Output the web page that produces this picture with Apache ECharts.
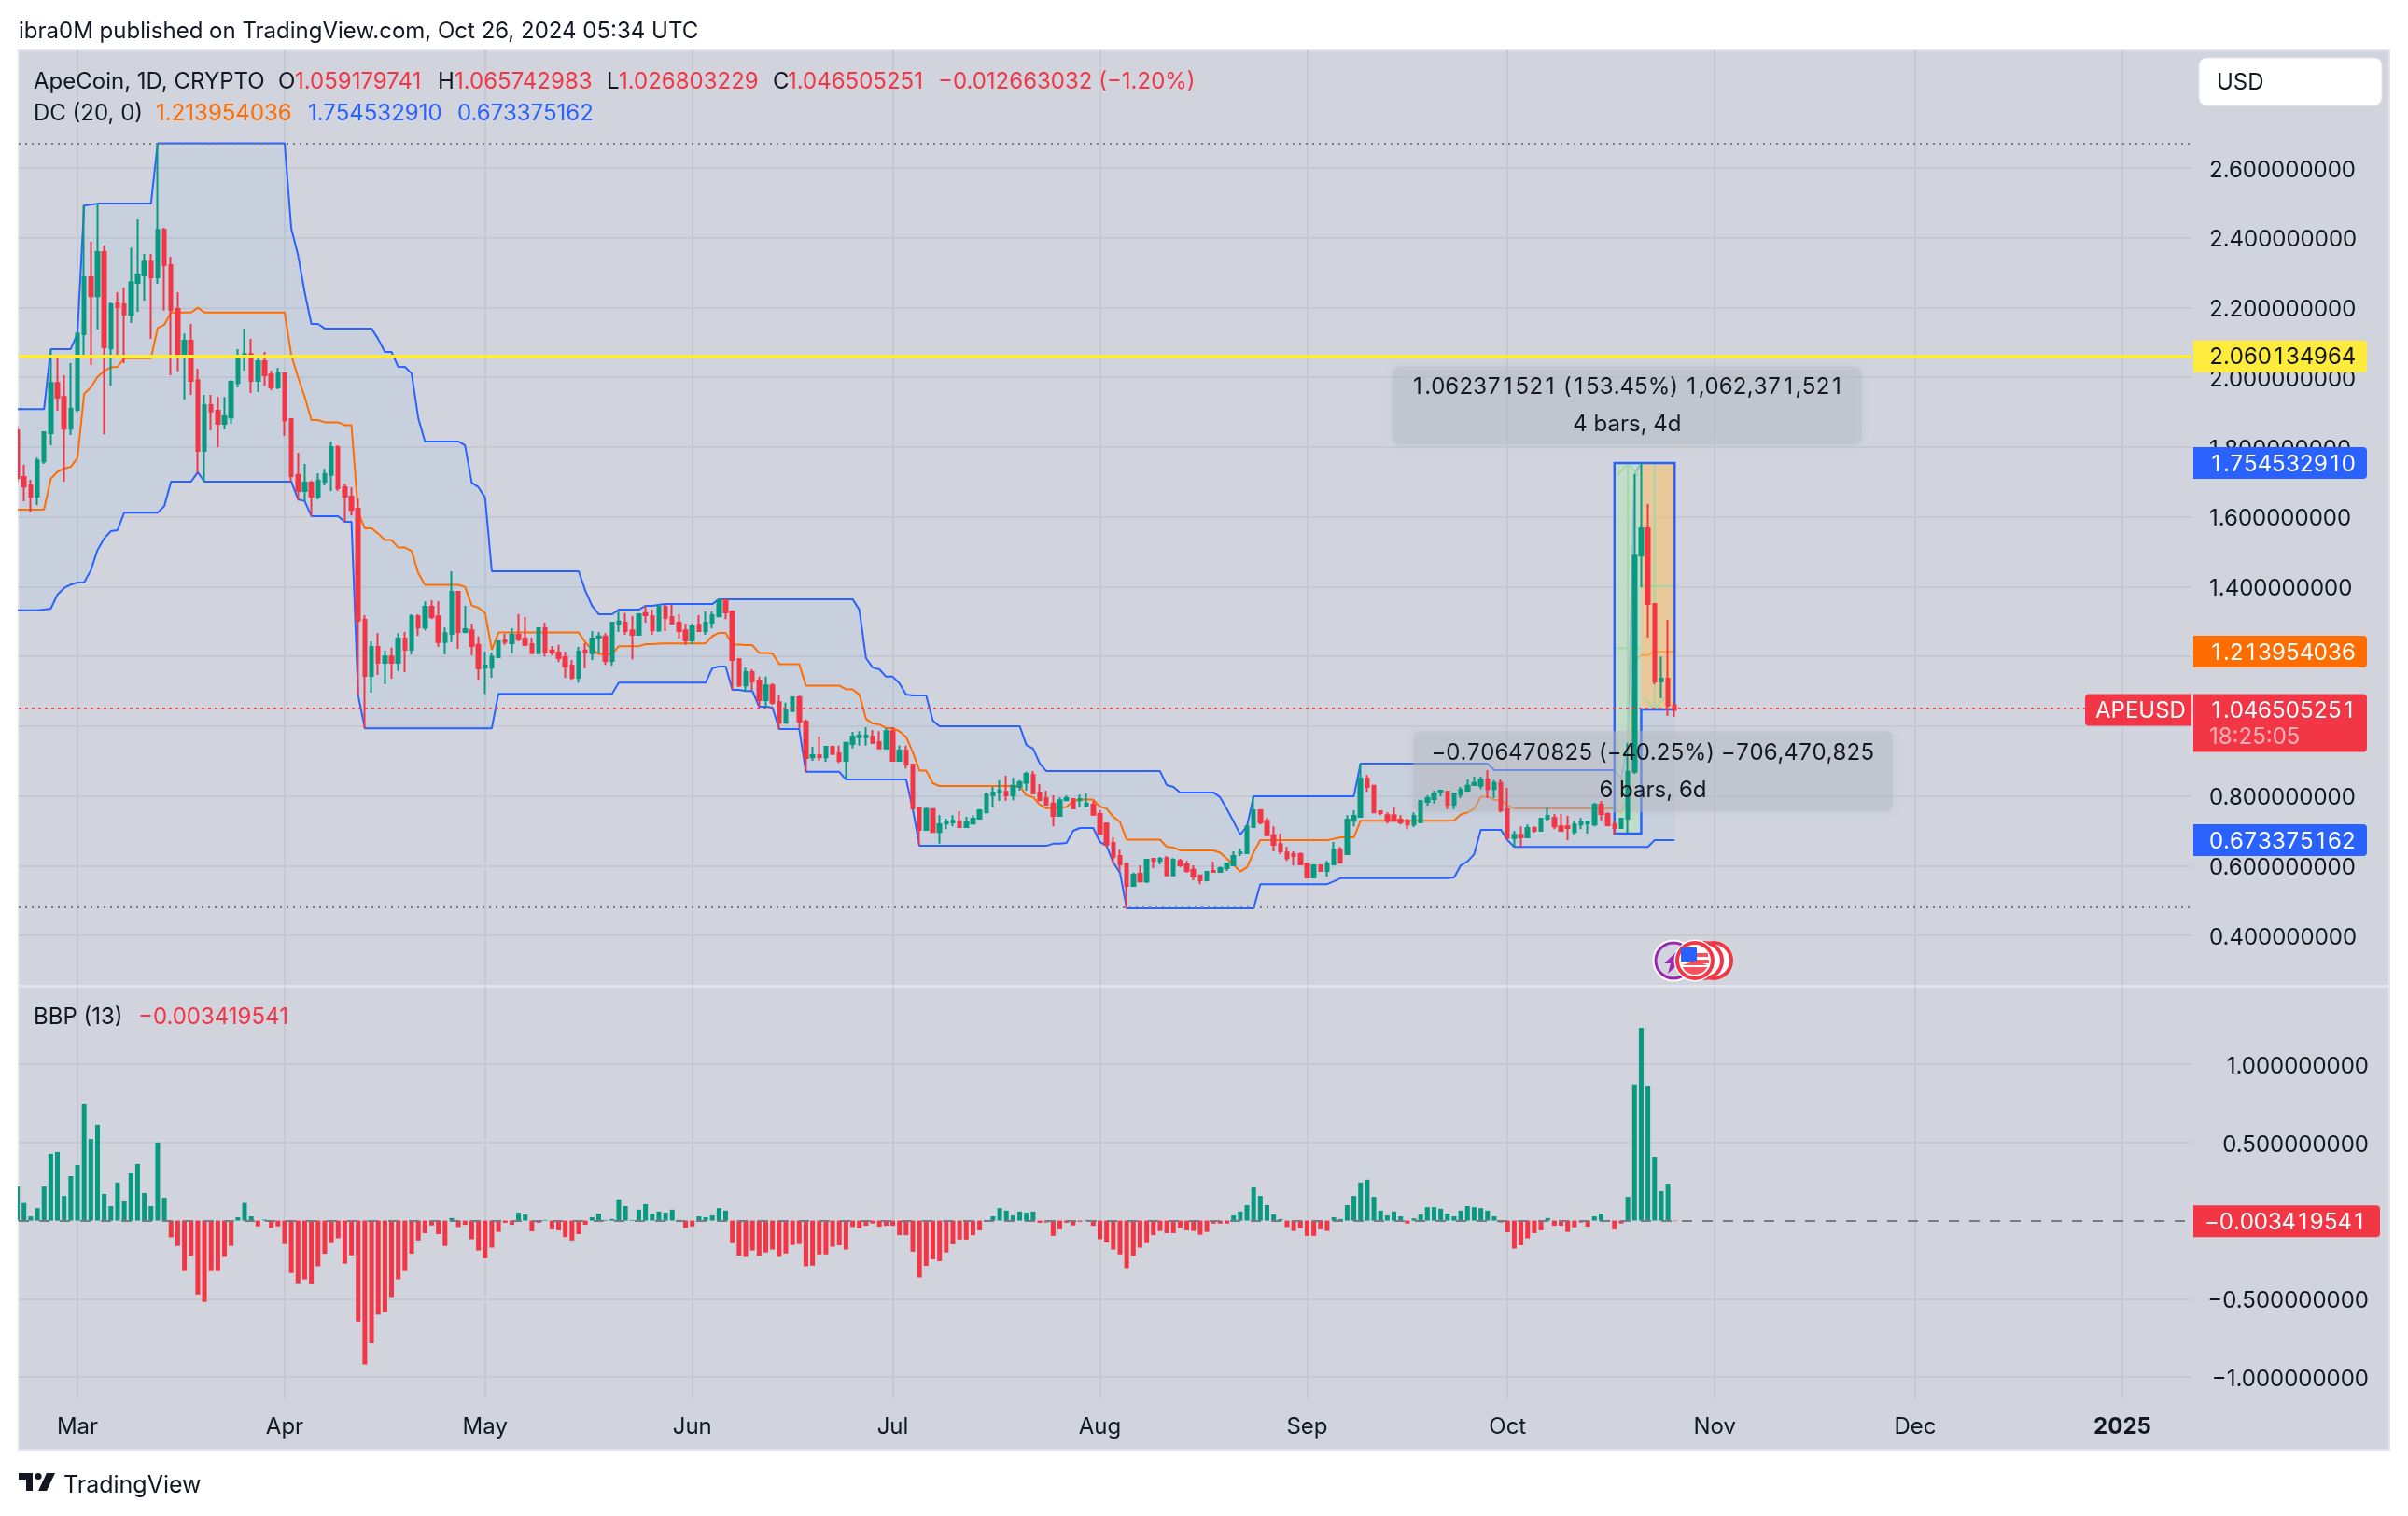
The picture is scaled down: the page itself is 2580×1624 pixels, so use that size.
<!DOCTYPE html>
<html>
<head>
<meta charset="utf-8">
<title>APEUSD</title>
<style>
html, body { margin: 0; padding: 0; background: #ffffff; }
#chart { width: 2580px; height: 1624px; }
</style>
<script src="https://cdn.jsdelivr.net/npm/echarts@6/dist/echarts.min.js"></script>
</head>
<body>
<div id="chart"></div>
<script>
// day numbers count from 1 Mar 2024, the first bar is 21 Feb
var firstDay = -9;
var monthDays = [0, 31, 61, 92, 122, 153, 184, 214, 245, 275, 306];
var monthLabels = ['Mar', 'Apr', 'May', 'Jun', 'Jul', 'Aug', 'Sep', 'Oct', 'Nov', 'Dec', '{b|2025}'];
var priceTicks = [0.4, 0.6, 0.8, 1, 1.2, 1.4, 1.6, 1.8, 2, 2.2, 2.4, 2.6];
var bbpTicks = [-1, -0.5, 0.5, 1];

var opens = [
	1.848,1.714,1.690,1.658,1.759,1.840,1.984,1.944,1.853,1.907,
	2.124,2.287,2.233,2.359,2.083,2.212,2.209,2.180,2.271,2.292,
	2.332,2.287,2.423,2.322,2.196,2.065,2.105,1.992,1.789,1.920,
	1.904,1.867,1.885,1.984,2.057,2.067,1.990,2.046,2.008,1.971,
	2.011,1.880,1.720,1.674,1.698,1.658,1.701,1.720,1.800,1.685,
	1.658,1.623,1.305,1.144,1.227,1.182,1.200,1.182,1.251,1.219,
	1.315,1.283,1.342,1.315,1.241,1.265,1.385,1.270,1.275,1.233,
	1.168,1.168,1.198,1.246,1.238,1.262,1.251,1.235,1.209,1.281,
	1.217,1.211,1.198,1.174,1.139,1.217,1.209,1.254,1.257,1.187,
	1.294,1.297,1.275,1.262,1.324,1.315,1.275,1.342,1.313,1.297,
	1.275,1.246,1.291,1.273,1.297,1.315,1.361,1.329,1.192,1.117,
	1.155,1.131,1.075,1.117,1.069,1.010,1.043,1.083,1.013,0.911,
	0.917,0.911,0.941,0.922,0.901,0.949,0.968,0.968,0.970,0.954,
	0.936,0.986,0.901,0.930,0.890,0.767,0.703,0.762,0.697,0.721,
	0.724,0.727,0.711,0.721,0.735,0.753,0.802,0.810,0.812,0.802,
	0.826,0.838,0.860,0.810,0.794,0.778,0.743,0.788,0.791,0.788,
	0.772,0.775,0.748,0.721,0.665,0.628,0.606,0.542,0.577,0.555,
	0.620,0.614,0.622,0.572,0.614,0.604,0.588,0.572,0.558,0.585,
	0.582,0.593,0.601,0.636,0.636,0.711,0.759,0.729,0.687,0.662,
	0.638,0.633,0.633,0.606,0.566,0.601,0.585,0.604,0.646,0.633,
	0.729,0.740,0.850,0.829,0.756,0.745,0.745,0.732,0.729,0.718,
	0.724,0.783,0.791,0.812,0.812,0.775,0.804,0.815,0.831,0.829,
	0.847,0.820,0.837,0.762,0.679,0.689,0.681,0.708,0.700,0.735,
	0.737,0.713,0.713,0.697,0.718,0.721,0.718,0.775,0.748,0.718,
	0.708,0.735,0.869,1.489,1.567,1.350,1.128,1.136,1.059179741
];
var closes = [
	1.711,1.687,1.658,1.762,1.843,1.984,1.942,1.853,1.910,2.126,
	2.287,2.233,2.359,2.086,2.209,2.201,2.180,2.273,2.295,2.332,
	2.287,2.423,2.322,2.193,2.065,2.105,1.990,1.789,1.920,1.902,
	1.867,1.888,1.987,2.059,2.067,1.990,2.046,2.006,1.971,2.011,
	1.877,1.717,1.674,1.698,1.658,1.704,1.722,1.800,1.682,1.658,
	1.620,1.302,1.144,1.227,1.182,1.200,1.182,1.251,1.219,1.315,
	1.283,1.342,1.313,1.241,1.267,1.385,1.270,1.278,1.230,1.166,
	1.174,1.200,1.243,1.241,1.262,1.249,1.233,1.209,1.281,1.211,
	1.211,1.195,1.171,1.139,1.214,1.211,1.251,1.257,1.187,1.297,
	1.300,1.273,1.262,1.321,1.318,1.275,1.342,1.310,1.294,1.273,
	1.246,1.286,1.273,1.297,1.318,1.361,1.326,1.190,1.117,1.155,
	1.128,1.075,1.117,1.067,1.010,1.045,1.083,1.013,0.909,0.917,
	0.911,0.941,0.920,0.901,0.952,0.970,0.973,0.973,0.952,0.936,
	0.986,0.901,0.930,0.890,0.764,0.703,0.762,0.697,0.719,0.727,
	0.729,0.711,0.724,0.735,0.759,0.804,0.810,0.815,0.802,0.829,
	0.839,0.863,0.807,0.788,0.775,0.743,0.788,0.794,0.764,0.791,
	0.778,0.746,0.692,0.660,0.625,0.604,0.542,0.574,0.555,0.617,
	0.614,0.620,0.572,0.617,0.601,0.585,0.569,0.558,0.582,0.582,
	0.593,0.606,0.628,0.638,0.713,0.759,0.724,0.687,0.660,0.641,
	0.622,0.628,0.604,0.566,0.601,0.585,0.606,0.646,0.609,0.732,
	0.743,0.850,0.826,0.753,0.751,0.729,0.729,0.724,0.718,0.743,
	0.786,0.794,0.807,0.815,0.775,0.807,0.818,0.829,0.837,0.847,
	0.820,0.837,0.759,0.679,0.689,0.681,0.708,0.700,0.735,0.743,
	0.713,0.700,0.708,0.718,0.724,0.727,0.775,0.748,0.716,0.708,
	0.735,0.869,1.489,1.567,1.350,1.128,1.136,1.059,1.046505251
];
var highs = [
	1.860,1.749,1.706,1.770,1.845,2.081,2.054,2.006,2.041,2.130,
	2.493,2.389,2.498,2.378,2.215,2.244,2.257,2.372,2.453,2.354,
	2.354,2.672,2.429,2.346,2.244,2.126,2.153,2.025,1.950,1.950,
	1.944,1.944,1.992,2.081,2.140,2.110,2.059,2.073,2.019,2.027,
	2.012,1.882,1.784,1.752,1.704,1.725,1.738,1.816,1.805,1.695,
	1.685,1.653,1.318,1.243,1.267,1.216,1.225,1.267,1.270,1.321,
	1.321,1.358,1.361,1.358,1.283,1.444,1.385,1.345,1.294,1.257,
	1.214,1.211,1.243,1.265,1.281,1.321,1.313,1.254,1.283,1.297,
	1.230,1.233,1.214,1.190,1.227,1.238,1.273,1.270,1.267,1.297,
	1.329,1.324,1.316,1.324,1.345,1.334,1.348,1.348,1.348,1.321,
	1.294,1.294,1.318,1.329,1.329,1.361,1.364,1.332,1.195,1.168,
	1.163,1.142,1.142,1.123,1.091,1.067,1.085,1.088,1.019,0.941,
	0.970,0.941,0.944,0.944,0.954,0.984,0.986,0.997,0.989,0.986,
	0.994,0.997,0.944,0.944,0.893,0.767,0.767,0.762,0.745,0.735,
	0.745,0.756,0.740,0.745,0.762,0.810,0.826,0.845,0.858,0.852,
	0.845,0.869,0.871,0.834,0.815,0.802,0.796,0.802,0.794,0.804,
	0.807,0.786,0.759,0.724,0.681,0.646,0.606,0.580,0.601,0.620,
	0.620,0.625,0.628,0.622,0.620,0.614,0.601,0.574,0.585,0.612,
	0.598,0.609,0.641,0.649,0.713,0.799,0.762,0.738,0.713,0.692,
	0.654,0.641,0.638,0.609,0.604,0.604,0.614,0.668,0.654,0.745,
	0.759,0.893,0.860,0.829,0.759,0.753,0.767,0.745,0.735,0.753,
	0.786,0.802,0.815,0.818,0.815,0.807,0.826,0.847,0.855,0.855,
	0.874,0.845,0.847,0.823,0.700,0.713,0.718,0.713,0.735,0.767,
	0.748,0.748,0.743,0.729,0.737,0.729,0.780,0.786,0.753,0.729,
	0.735,0.952,1.722,1.7545,1.637,1.350,1.200,1.305,1.065742983
];
var lows = [
	1.700,1.645,1.613,1.634,1.752,1.805,1.904,1.701,1.835,1.900,
	2.062,2.035,2.137,1.837,1.976,2.065,2.041,2.156,2.188,2.220,
	2.110,2.268,2.191,2.006,2.017,1.936,1.950,1.725,1.700,1.848,
	1.800,1.851,1.867,1.971,2.019,1.955,1.958,1.976,1.963,1.966,
	1.832,1.701,1.647,1.645,1.602,1.650,1.690,1.674,1.674,1.586,
	1.604,1.090,0.994,1.096,1.147,1.120,1.136,1.158,1.155,1.206,
	1.259,1.275,1.307,1.227,1.206,1.241,1.222,1.267,1.203,1.133,
	1.093,1.139,1.195,1.233,1.209,1.243,1.230,1.209,1.209,1.200,
	1.203,1.184,1.139,1.133,1.125,1.166,1.190,1.209,1.176,1.174,
	1.270,1.262,1.192,1.262,1.297,1.262,1.270,1.273,1.294,1.251,
	1.233,1.235,1.270,1.262,1.281,1.315,1.307,1.104,1.112,1.099,
	1.104,1.056,1.056,1.061,0.992,1.008,1.043,0.994,0.869,0.901,
	0.901,0.898,0.920,0.895,0.850,0.936,0.944,0.944,0.949,0.936,
	0.933,0.901,0.901,0.879,0.761,0.660,0.703,0.695,0.663,0.705,
	0.713,0.708,0.708,0.718,0.735,0.753,0.767,0.786,0.786,0.788,
	0.815,0.815,0.807,0.786,0.772,0.713,0.743,0.786,0.764,0.767,
	0.767,0.743,0.692,0.654,0.606,0.585,0.478,0.542,0.553,0.550,
	0.593,0.604,0.572,0.572,0.596,0.580,0.558,0.547,0.555,0.580,
	0.580,0.585,0.601,0.628,0.633,0.708,0.718,0.687,0.641,0.633,
	0.614,0.601,0.601,0.564,0.564,0.585,0.569,0.604,0.606,0.633,
	0.713,0.740,0.812,0.753,0.745,0.721,0.727,0.718,0.705,0.711,
	0.724,0.772,0.778,0.799,0.762,0.762,0.794,0.812,0.829,0.820,
	0.794,0.794,0.753,0.679,0.654,0.654,0.679,0.695,0.700,0.729,
	0.705,0.700,0.673,0.689,0.705,0.692,0.713,0.729,0.713,0.689,
	0.708,0.695,0.863,1.398,1.254,1.120,1.080,1.029,1.026803229
];
var dcUpper = [
	1.909,1.909,1.909,1.909,1.909,2.081,2.081,2.081,2.081,2.126,
	2.493,2.495,2.498,2.498,2.498,2.498,2.498,2.498,2.498,2.498,
	2.498,2.671,2.671,2.671,2.671,2.671,2.671,2.671,2.671,2.671,
	2.671,2.671,2.671,2.671,2.671,2.671,2.671,2.671,2.671,2.671,
	2.671,2.426,2.351,2.244,2.153,2.153,2.140,2.140,2.140,2.140,
	2.140,2.140,2.140,2.140,2.110,2.073,2.073,2.030,2.030,2.011,
	1.883,1.816,1.816,1.816,1.816,1.816,1.816,1.805,1.698,1.685,
	1.655,1.444,1.444,1.444,1.444,1.444,1.444,1.444,1.444,1.444,
	1.444,1.444,1.444,1.444,1.444,1.388,1.345,1.321,1.321,1.321,
	1.334,1.334,1.334,1.334,1.345,1.345,1.348,1.350,1.350,1.350,
	1.350,1.350,1.350,1.350,1.350,1.364,1.364,1.364,1.364,1.364,
	1.364,1.364,1.364,1.364,1.364,1.364,1.364,1.364,1.364,1.364,
	1.364,1.364,1.364,1.364,1.364,1.364,1.334,1.195,1.168,1.163,
	1.142,1.142,1.123,1.091,1.088,1.088,1.088,1.016,1.000,1.000,
	1.000,1.000,1.000,1.000,1.000,1.000,1.000,1.000,1.000,1.000,
	1.000,0.946,0.936,0.893,0.871,0.871,0.871,0.871,0.871,0.871,
	0.871,0.871,0.871,0.871,0.871,0.871,0.871,0.871,0.871,0.871,
	0.871,0.871,0.831,0.826,0.810,0.810,0.810,0.810,0.810,0.810,
	0.796,0.762,0.727,0.689,0.713,0.799,0.799,0.799,0.799,0.799,
	0.799,0.799,0.799,0.799,0.799,0.799,0.799,0.799,0.799,0.799,
	0.799,0.893,0.893,0.893,0.893,0.893,0.893,0.893,0.893,0.893,
	0.893,0.893,0.893,0.893,0.893,0.893,0.893,0.893,0.893,0.893,
	0.893,0.874,0.874,0.874,0.874,0.874,0.874,0.874,0.874,0.874,
	0.874,0.874,0.874,0.874,0.874,0.874,0.874,0.874,0.874,0.874,
	0.850,0.952,1.722,1.7545,1.7545,1.7545,1.7545,1.7545,1.7545
];
var dcLower = [
	1.332,1.332,1.332,1.332,1.334,1.337,1.377,1.396,1.406,1.412,
	1.412,1.447,1.505,1.538,1.559,1.562,1.612,1.612,1.612,1.612,
	1.612,1.612,1.631,1.701,1.701,1.701,1.701,1.728,1.701,1.701,
	1.701,1.701,1.701,1.701,1.701,1.701,1.701,1.701,1.701,1.701,
	1.701,1.701,1.650,1.645,1.602,1.602,1.602,1.602,1.602,1.586,
	1.586,1.088,0.994,0.994,0.994,0.994,0.994,0.994,0.994,0.994,
	0.994,0.994,0.994,0.994,0.994,0.994,0.994,0.994,0.994,0.994,
	0.994,0.994,1.093,1.093,1.093,1.093,1.093,1.093,1.093,1.093,
	1.093,1.093,1.093,1.093,1.093,1.093,1.093,1.093,1.093,1.093,
	1.125,1.125,1.125,1.125,1.125,1.125,1.125,1.125,1.125,1.125,
	1.125,1.125,1.125,1.125,1.166,1.171,1.171,1.104,1.104,1.101,
	1.101,1.056,1.056,1.053,0.992,0.992,0.992,0.992,0.869,0.869,
	0.869,0.869,0.869,0.869,0.847,0.847,0.847,0.847,0.847,0.847,
	0.847,0.847,0.847,0.847,0.762,0.657,0.657,0.657,0.657,0.657,
	0.657,0.657,0.657,0.657,0.657,0.657,0.657,0.657,0.657,0.657,
	0.657,0.657,0.657,0.657,0.657,0.663,0.663,0.665,0.700,0.708,
	0.708,0.708,0.668,0.657,0.609,0.580,0.478,0.478,0.478,0.478,
	0.478,0.478,0.478,0.478,0.478,0.478,0.478,0.478,0.478,0.478,
	0.478,0.478,0.478,0.478,0.478,0.478,0.547,0.547,0.547,0.547,
	0.547,0.547,0.547,0.547,0.547,0.547,0.547,0.555,0.564,0.564,
	0.564,0.564,0.564,0.564,0.564,0.564,0.564,0.564,0.564,0.564,
	0.564,0.564,0.564,0.564,0.564,0.566,0.601,0.612,0.633,0.703,
	0.703,0.703,0.703,0.673,0.654,0.654,0.654,0.654,0.654,0.654,
	0.654,0.654,0.654,0.654,0.654,0.654,0.654,0.654,0.654,0.654,
	0.654,0.654,0.654,0.654,0.654,0.673,0.673,0.673,0.673
];
var dcMiddle = [
	1.6205,1.6205,1.6205,1.6205,1.6215,1.709,1.729,1.7385,1.7435,1.769,
	1.9525,1.971,2.0015,2.018,2.0285,2.030,2.055,2.055,2.055,2.055,
	2.055,2.1415,2.151,2.186,2.186,2.186,2.186,2.1995,2.186,2.186,
	2.186,2.186,2.186,2.186,2.186,2.186,2.186,2.186,2.186,2.186,
	2.186,2.0635,2.0005,1.9445,1.8775,1.8775,1.871,1.871,1.871,1.863,
	1.863,1.614,1.567,1.567,1.552,1.5335,1.5335,1.512,1.512,1.5025,
	1.4385,1.405,1.405,1.405,1.405,1.405,1.405,1.3995,1.346,1.3395,
	1.3245,1.219,1.2685,1.2685,1.2685,1.2685,1.2685,1.2685,1.2685,1.2685,
	1.2685,1.2685,1.2685,1.2685,1.2685,1.2405,1.219,1.207,1.207,1.207,
	1.2295,1.2295,1.2295,1.2295,1.235,1.235,1.2365,1.2375,1.2375,1.2375,
	1.2375,1.2375,1.2375,1.2375,1.258,1.2675,1.2675,1.234,1.234,1.2325,
	1.2325,1.21,1.21,1.2085,1.178,1.178,1.178,1.178,1.1165,1.1165,
	1.1165,1.1165,1.1165,1.1165,1.1055,1.1055,1.0905,1.021,1.0075,1.005,
	0.9945,0.9945,0.985,0.969,0.925,0.8725,0.8725,0.8365,0.8285,0.8285,
	0.8285,0.8285,0.8285,0.8285,0.8285,0.8285,0.8285,0.8285,0.8285,0.8285,
	0.8285,0.8015,0.7965,0.775,0.764,0.767,0.767,0.768,0.7855,0.7895,
	0.7895,0.7895,0.7695,0.764,0.740,0.7255,0.6745,0.6745,0.6745,0.6745,
	0.6745,0.6745,0.6545,0.652,0.644,0.644,0.644,0.644,0.644,0.644,
	0.637,0.620,0.6025,0.5835,0.5955,0.6385,0.673,0.673,0.673,0.673,
	0.673,0.673,0.673,0.673,0.673,0.673,0.673,0.677,0.6815,0.6815,
	0.6815,0.7285,0.7285,0.7285,0.7285,0.7285,0.7285,0.7285,0.7285,0.7285,
	0.7285,0.7285,0.7285,0.7285,0.7285,0.7295,0.747,0.7525,0.763,0.798,
	0.798,0.7885,0.7885,0.7735,0.764,0.764,0.764,0.764,0.764,0.764,
	0.764,0.764,0.764,0.764,0.764,0.764,0.764,0.764,0.764,0.764,
	0.752,0.803,1.188,1.204,1.204,1.2138,1.2138,1.2138,1.2138
];
var bbpValues = [
	0.218,0.113,0.027,0.080,0.218,0.428,0.440,0.158,0.284,0.356,
	0.744,0.522,0.613,0.171,0.093,0.243,0.123,0.302,0.362,0.177,
	0.093,0.500,0.146,-0.107,-0.162,-0.323,-0.226,-0.473,-0.520,-0.323,
	-0.323,-0.232,-0.162,0.021,0.113,0.027,-0.037,0.006,-0.047,-0.037,
	-0.150,-0.335,-0.401,-0.376,-0.407,-0.292,-0.212,-0.144,-0.113,-0.275,
	-0.222,-0.646,-0.919,-0.785,-0.602,-0.586,-0.489,-0.376,-0.323,-0.212,
	-0.127,-0.080,-0.031,-0.086,-0.162,0.016,-0.041,-0.027,-0.119,-0.191,
	-0.241,-0.173,-0.072,-0.014,-0.027,0.051,0.039,-0.068,-0.014,0.004,
	-0.056,-0.062,-0.105,-0.127,-0.086,-0.027,0.021,0.045,0.004,0.010,
	0.136,0.093,0.004,0.070,0.105,0.045,0.058,0.051,0.070,0.004,
	-0.047,-0.037,0.027,0.021,0.033,0.080,0.064,-0.144,-0.224,-0.232,
	-0.191,-0.226,-0.204,-0.185,-0.232,-0.210,-0.156,-0.150,-0.292,-0.288,
	-0.216,-0.216,-0.167,-0.158,-0.185,-0.041,-0.049,-0.033,-0.019,-0.039,
	-0.033,-0.033,-0.093,-0.093,-0.199,-0.364,-0.290,-0.247,-0.259,-0.204,
	-0.152,-0.121,-0.121,-0.093,-0.062,0.004,0.027,0.080,0.064,0.033,
	0.058,0.051,0.058,-0.014,-0.012,-0.097,-0.056,-0.014,-0.031,-0.008,
	0.004,-0.033,-0.119,-0.140,-0.185,-0.216,-0.304,-0.226,-0.173,-0.144,
	-0.093,-0.066,-0.080,-0.080,-0.047,-0.062,-0.066,-0.090,-0.072,-0.019,
	-0.019,-0.019,0.033,0.058,0.099,0.212,0.158,0.099,0.039,0.010,
	-0.041,-0.066,-0.049,-0.097,-0.097,-0.056,-0.066,0.021,0.010,0.099,
	0.158,0.243,0.261,0.152,0.064,0.033,0.058,0.027,-0.019,0.014,
	0.039,0.086,0.086,0.076,0.045,0.027,0.064,0.093,0.086,0.080,
	0.064,0.027,-0.012,-0.074,-0.179,-0.158,-0.113,-0.080,-0.062,0.016,
	-0.033,-0.033,-0.072,-0.043,-0.012,-0.039,0.027,0.045,0.004,-0.056,
	-0.019,0.152,0.870,1.234,0.863,0.409,0.189,0.236,-0.003419541
];

var resistancePrice = 2.060134964;
var topRangePrice = 2.671;
var bottomRangePrice = 0.478;
var lastPrice = 1.046505251;

var flagPrices = [2.060134964, 1.75453291, 1.213954036, 0.673375162, 1.046505251];
var flagColors = ['#ffeb3b', '#2962ff', '#ff6d00', '#2962ff', '#f23645'];
var flagTextColors = ['#131722', '#ffffff', '#ffffff', '#ffffff', '#ffffff'];

// start day, end day, low, high, day of the arrow, arrow up or not
var upMeasure = [230, 234, 0.692161, 1.754533, 232, 1];
var downMeasure = [234, 239, 1.048062, 1.754533, 236, 0];
var measureLabelDays = [231.9, 235.75];
var measureLabelPrices = [1.918, 0.870];
var measureLabelWidths = [503, 514];
var measureLabelHeights = [84, 87];
var measureLabelTop = ['1.062371521 (153.45%) 1,062,371,521', '\u22120.706470825 (\u221240.25%) \u2212706,470,825'];
var measureLabelBottom = ['4 bars, 4d', '6 bars, 6d'];

var green = '#089981';
var red = '#f23645';
var blue = '#2962ff';
var orange = '#ff6d00';
var dark = '#131722';
var gridColor = '#c6c9d2';
var fontName = 'Inter';

function fmt(v) {
	return v.toFixed(9).replace('-', '\u2212');
}

var candleData = [];
var upperData = [];
var middleData = [];
var lowerData = [];
var bbpData = [];
for (var i = 0; i < opens.length; i++) {
	var day = firstDay + i;
	candleData.push([day, opens[i], closes[i], lows[i], highs[i]]);
	upperData.push([day, dcUpper[i]]);
	middleData.push([day, dcMiddle[i]]);
	lowerData.push([day, dcLower[i]]);
	bbpData.push({
		value : [day, bbpValues[i]],
		itemStyle : { color : bbpValues[i] >= 0 ? green : red }
	});
}

// flags and ruler labels have digits of equal width, canvas text cannot do that by itself
var measureCtx = document.createElement('canvas').getContext('2d');
var digitWidth = 15;
function charWidth(c) {
	if (/[0-9]/.test(c)) {
		return digitWidth;
	}
	measureCtx.font = '24px ' + fontName;
	return measureCtx.measureText(c).width;
}
function tabularWidth(text) {
	var w = 0;
	for (var n = 0; n < text.length; n++) {
		w += charWidth(text.charAt(n));
	}
	return w;
}
function tabularText(text, x, y, color) {
	var out = [];
	var pos = x;
	for (var n = 0; n < text.length; n++) {
		var c = text.charAt(n);
		var w = charWidth(c);
		out.push({
			type : 'text',
			style : { text : c, x : pos + w / 2, y : y, align : 'center', verticalAlign : 'middle',
				fill : color, font : '24px ' + fontName }
		});
		pos += w;
	}
	return out;
}

function txt(x, y, text, color, size, extra) {
	var style = {
		text : text,
		x : x,
		y : y + 1.5,
		fill : color,
		font : (size || 24) + 'px ' + fontName,
		verticalAlign : 'middle'
	};
	if (extra) {
		style.align = extra;
	}
	return { type : 'text', z : 30, style : style };
}

function circle(x, y, r, fill, stroke, lw) {
	return {
		type : 'circle', z : 31,
		shape : { cx : x, cy : y, r : r },
		style : { fill : fill, stroke : stroke, lineWidth : lw }
	};
}

var graphics = [
	{ type : 'rect', z : -10, shape : { x : 20, y : 54, width : 2540, height : 1499 },
		style : { fill : '#d1d4dc', stroke : '#e0e3eb', lineWidth : 2 } },
	{ type : 'rect', z : -5, shape : { x : 20, y : 1055, width : 2540, height : 3 },
		style : { fill : '#e0e3eb' } },
	// the first bar starts left of the pane
	{ type : 'rect', z : 29, shape : { x : 0, y : 40, width : 19, height : 1520 },
		style : { fill : '#ffffff' } },
	{ type : 'rect', z : 30, shape : { x : 2356, y : 62, width : 196, height : 51, r : 8 },
		style : { fill : '#ffffff', stroke : '#e0e3eb', lineWidth : 1 } },
	txt(2375, 87, 'USD', dark),
	txt(20, 32, 'ibra0M published on TradingView.com, Oct 26, 2024 05:34 UTC', dark),
	txt(36, 86, 'ApeCoin, 1D, CRYPTO', dark),
	txt(298, 86, 'O', dark),
	txt(316, 86, '1.059179741', red),
	txt(469, 86, 'H', dark),
	txt(487, 86, '1.065742983', red),
	txt(650, 86, 'L', dark),
	txt(663, 86, '1.026803229', red),
	txt(828, 86, 'C', dark),
	txt(844, 86, '1.046505251', red),
	txt(1005, 86, '\u22120.012663032 (\u22121.20%)', red),
	txt(36, 120, 'DC (20, 0)', dark),
	txt(167, 120, '1.213954036', orange),
	txt(330, 120, '1.754532910', blue),
	txt(490, 120, '0.673375162', blue),
	txt(36, 1088, 'BBP (13)', dark),
	txt(148, 1088, '\u22120.003419541', red),
	txt(68, 1590, 'TradingView', dark, 25),
	// logo
	{ type : 'polygon', z : 30, shape : { points : [[20, 1578], [35, 1578], [35, 1597], [28, 1597], [28, 1585], [20, 1585]] },
		style : { fill : dark } },
	{ type : 'circle', z : 30, shape : { cx : 41, cy : 1581.5, r : 3.6 }, style : { fill : dark } },
	{ type : 'polygon', z : 30, shape : { points : [[50, 1578], [59, 1578], [50, 1597], [41, 1597]] },
		style : { fill : dark } },
	// event markers under the price pane
	circle(1793, 1029, 19, '#d1d4dc', '#ffffff', 7),
	circle(1793, 1029, 19, '#d1d4dc', '#9c27b0', 3),
	{ type : 'polygon', z : 31, shape : { points : [[1798, 1018], [1795, 1029], [1802, 1029], [1787, 1043], [1790, 1032], [1783, 1032]] },
		style : { fill : '#9c27b0' } },
	circle(1836, 1029, 19, '#ffffff', '#f23645', 4),
	circle(1826, 1029, 19, '#ffffff', '#f23645', 4),
	circle(1816, 1029, 22, '#ffffff', '#ffffff', 1),
	circle(1816, 1029, 19, '#ffffff', '#f23645', 4),
	{ type : 'rect', z : 32, shape : { x : 1801, y : 1015, width : 17, height : 15 }, style : { fill : '#2962ff' } },
	{ type : 'rect', z : 32, shape : { x : 1818, y : 1021, width : 12, height : 4 }, style : { fill : '#f7525f' } },
	{ type : 'rect', z : 32, shape : { x : 1818, y : 1028, width : 13, height : 4 }, style : { fill : '#f7525f' } },
	{ type : 'sector', z : 32, shape : { cx : 1816, cy : 1029, r : 15, startAngle : 0.35, endAngle : Math.PI - 0.35 }, style : { fill : '#f7525f' } },
	{ type : 'rect', z : 33, shape : { x : 1801, y : 1034, width : 30, height : 2 }, style : { fill : '#ffffff' } }
];

function renderBand(params, api) {
	if (params.dataIndex !== 0) {
		return;
	}
	var points = [];
	for (var k = 0; k < dcUpper.length; k++) {
		points.push(api.coord([firstDay + k, dcUpper[k]]));
	}
	for (var m = dcLower.length - 1; m >= 0; m--) {
		points.push(api.coord([firstDay + m, dcLower[m]]));
	}
	return {
		type : 'polygon',
		shape : { points : points },
		style : { fill : 'rgba(41, 110, 255, 0.05)' }
	};
}

function renderMeasureFill(params, api) {
	var a = api.coord([api.value(0), api.value(3)]);
	var b = api.coord([api.value(1), api.value(2)]);
	var arrowX = api.coord([api.value(4), api.value(3)])[0];
	var up = api.value(5) === 1;
	var midY = (a[1] + b[1]) / 2;
	var tipY = up ? a[1] : b[1];
	var headY = up ? tipY + 13 : tipY - 13;
	var lineColor = '#a5d6a7';
	return {
		type : 'group',
		children : [
			{ type : 'rect', shape : { x : a[0], y : a[1], width : b[0] - a[0], height : b[1] - a[1] },
				style : { fill : up ? 'rgba(190, 225, 195, 0.7)' : 'rgba(255, 195, 110, 0.6)' } },
			{ type : 'line', shape : { x1 : a[0], y1 : midY, x2 : b[0], y2 : midY },
				style : { stroke : lineColor, lineWidth : 2 } },
			{ type : 'line', shape : { x1 : arrowX, y1 : a[1], x2 : arrowX, y2 : b[1] },
				style : { stroke : lineColor, lineWidth : 2 } },
			{ type : 'polyline', shape : { points : [[arrowX - 11, headY], [arrowX, tipY], [arrowX + 11, headY]] },
				style : { stroke : lineColor, lineWidth : 2, fill : 'none' } }
		]
	};
}

// one outline around both rulers, they share the top edge
function renderMeasureBorder(params, api) {
	var points = [
		api.coord([upMeasure[0], upMeasure[3]]),
		api.coord([downMeasure[1], downMeasure[3]]),
		api.coord([downMeasure[1], downMeasure[2]]),
		api.coord([downMeasure[0], downMeasure[2]]),
		api.coord([upMeasure[1], upMeasure[2]]),
		api.coord([upMeasure[0], upMeasure[2]])
	];
	return {
		type : 'polygon',
		shape : { points : points },
		style : { fill : 'none', stroke : blue, lineWidth : 2.5 }
	};
}

function renderMeasureBox(params, api) {
	var n = params.dataIndex;
	var c = api.coord([api.value(0), api.value(1)]);
	var w = measureLabelWidths[n];
	var h = measureLabelHeights[n];
	return {
		type : 'rect',
		shape : { x : c[0] - w / 2, y : c[1] - h / 2, width : w, height : h, r : 8 },
		style : { fill : 'rgba(185, 188, 197, 0.45)', shadowBlur : 8, shadowColor : 'rgba(150, 153, 163, 0.3)' }
	};
}

function renderMeasureLabel(params, api) {
	var n = params.dataIndex;
	var c = api.coord([api.value(0), api.value(1)]);
	var top = measureLabelTop[n];
	var children = [
		{ type : 'text', style : { text : measureLabelBottom[n], x : c[0], y : c[1] + 20, align : 'center', verticalAlign : 'middle',
			fill : dark, font : '24px ' + fontName } }
	];
	return {
		type : 'group',
		children : children.concat(tabularText(top, c[0] - tabularWidth(top) / 2, c[1] - 20, dark))
	};
}

function renderFlag(params, api) {
	var n = params.dataIndex;
	var y = api.coord([0, api.value(1)])[1];
	var isLast = n === flagPrices.length - 1;
	var children = [
		{ type : 'rect', shape : { x : 2350, y : y - 17, width : 186, height : isLast ? 62 : 34, r : [0, 4, 4, 0] },
			style : { fill : flagColors[n] } }
	];
	if (isLast) {
		children.push({ type : 'rect', shape : { x : 2234, y : y - 17, width : 114, height : 34, r : [4, 0, 0, 4] },
			style : { fill : red } });
		children.push({ type : 'text', style : { text : 'APEUSD', x : 2245, y : y + 1.5, verticalAlign : 'middle',
			fill : '#ffffff', font : '24px ' + fontName } });
		children.push({ type : 'text', style : { text : '18:25:05', x : 2367, y : y + 29, verticalAlign : 'middle',
			fill : 'rgba(255, 255, 255, 0.6)', font : '24px ' + fontName } });
	}
	return {
		type : 'group',
		children : children.concat(tabularText(fmt(api.value(1)), 2367, y + 1.5, flagTextColors[n]))
	};
}

function renderBbpFlag(params, api) {
	var y = api.coord([0, api.value(1)])[1];
	return {
		type : 'group',
		children : [
			{ type : 'rect', shape : { x : 2350, y : y - 17, width : 200, height : 34, r : [0, 4, 4, 0] },
				style : { fill : red } }
		].concat(tabularText(fmt(api.value(1)), 2362, y + 1.5, '#ffffff'))
	};
}

function hLine(value, color, width, type) {
	return {
		yAxis : value,
		lineStyle : { color : color, width : width, type : type }
	};
}

function axisX(gridIndex, showLabel) {
	return {
		type : 'value',
		gridIndex : gridIndex,
		min : -8.8,
		max : 316.34,
		axisLine : { show : false },
		axisTick : { show : false, customValues : monthDays },
		splitLine : { show : true, lineStyle : { color : gridColor, width : 2 } },
		axisLabel : {
			show : showLabel,
			customValues : monthDays,
			margin : 19,
			color : dark,
			fontSize : 24,
			fontFamily : fontName,
			hideOverlap : false,
			formatter : function(v) {
				return monthLabels[monthDays.indexOf(v)];
			},
			rich : { b : { fontWeight : 'bold', fontSize : 24, fontFamily : fontName, color : dark } }
		}
	};
}

function axisY(gridIndex, min, max, ticks, align, margin) {
	return {
		type : 'value',
		gridIndex : gridIndex,
		position : 'right',
		min : min,
		max : max,
		axisLine : { show : false },
		axisTick : { show : false, customValues : ticks },
		splitLine : { show : true, lineStyle : { color : gridColor, width : 2 } },
		axisLabel : {
			customValues : ticks,
			align : align,
			margin : margin,
			color : dark,
			fontSize : 24,
			fontFamily : fontName,
			hideOverlap : false,
			formatter : function(v) {
				return '{a|' + fmt(v) + '}';
			},
			rich : { a : { padding : [5, 0, 0, 0], fontSize : 24, fontFamily : fontName, color : dark } }
		}
	};
}

var chart = echarts.init(document.getElementById('chart'));
chart.setOption({
	animation : false,
	backgroundColor : '#ffffff',
	graphic : { elements : graphics },
	grid : [
		{ left : 20, top : 54, width : 2328, height : 1001 },
		{ left : 20, top : 1057, width : 2328, height : 441 }
	],
	xAxis : [ axisX(0, false), axisX(1, true) ],
	yAxis : [
		axisY(0, 0.2585, 2.9372, priceTicks, 'left', 19),
		axisY(1, -1.137, 1.496, bbpTicks, 'right', 190)
	],
	series : [
		{
			name : 'DC fill',
			type : 'custom',
			z : 1,
			clip : true,
			renderItem : renderBand,
			data : [ [firstDay, dcLower[0]] ],
			silent : true
		},
		{
			name : 'DC upper',
			type : 'line',
			z : 2,
			symbol : 'none',
			lineStyle : { color : blue, width : 2 },
			data : upperData,
			markLine : {
				z : 5,
				silent : true,
				symbol : 'none',
				label : { show : false },
				data : [
					hLine(topRangePrice, '#787b86', 2, [2, 5]),
					hLine(bottomRangePrice, '#787b86', 2, [2, 5]),
					hLine(resistancePrice, '#ffeb3b', 4, 'solid'),
					hLine(lastPrice, red, 2, [3, 4])
				]
			}
		},
		{
			name : 'DC middle',
			type : 'line',
			z : 2,
			symbol : 'none',
			lineStyle : { color : orange, width : 2 },
			data : middleData
		},
		{
			name : 'DC lower',
			type : 'line',
			z : 2,
			symbol : 'none',
			lineStyle : { color : blue, width : 2 },
			data : lowerData
		},
		{
			name : 'Measure fill',
			type : 'custom',
			z : 3,
			renderItem : renderMeasureFill,
			data : [ upMeasure, downMeasure ],
			silent : true
		},
		{
			name : 'Measure border',
			type : 'custom',
			z : 3,
			renderItem : renderMeasureBorder,
			data : [ upMeasure ],
			silent : true
		},
		{
			name : 'Measure box',
			type : 'custom',
			z : 3,
			renderItem : renderMeasureBox,
			data : [ [measureLabelDays[0], measureLabelPrices[0]], [measureLabelDays[1], measureLabelPrices[1]] ],
			silent : true
		},
		{
			name : 'APEUSD',
			type : 'candlestick',
			z : 4,
			barWidth : 4,
			itemStyle : {
				color : green,
				color0 : red,
				borderColor : green,
				borderColor0 : red,
				borderWidth : 2
			},
			data : candleData
		},
		{
			name : 'Measure label',
			type : 'custom',
			z : 6,
			renderItem : renderMeasureLabel,
			data : [ [measureLabelDays[0], measureLabelPrices[0]], [measureLabelDays[1], measureLabelPrices[1]] ],
			silent : true
		},
		{
			name : 'Flags',
			type : 'custom',
			z : 7,
			renderItem : renderFlag,
			data : flagPrices.map(function(p) { return [0, p]; }),
			silent : true
		},
		{
			name : 'BBP',
			type : 'bar',
			xAxisIndex : 1,
			yAxisIndex : 1,
			barWidth : 5,
			data : bbpData,
			markLine : {
				silent : true,
				symbol : 'none',
				label : { show : false },
				data : [ hLine(0, '#787b86', 2, [11, 11]) ]
			}
		},
		{
			name : 'BBP flag',
			type : 'custom',
			xAxisIndex : 1,
			yAxisIndex : 1,
			z : 7,
			renderItem : renderBbpFlag,
			data : [ [0, bbpValues[bbpValues.length - 1]] ],
			silent : true
		}
	]
});
</script>
</body>
</html>
